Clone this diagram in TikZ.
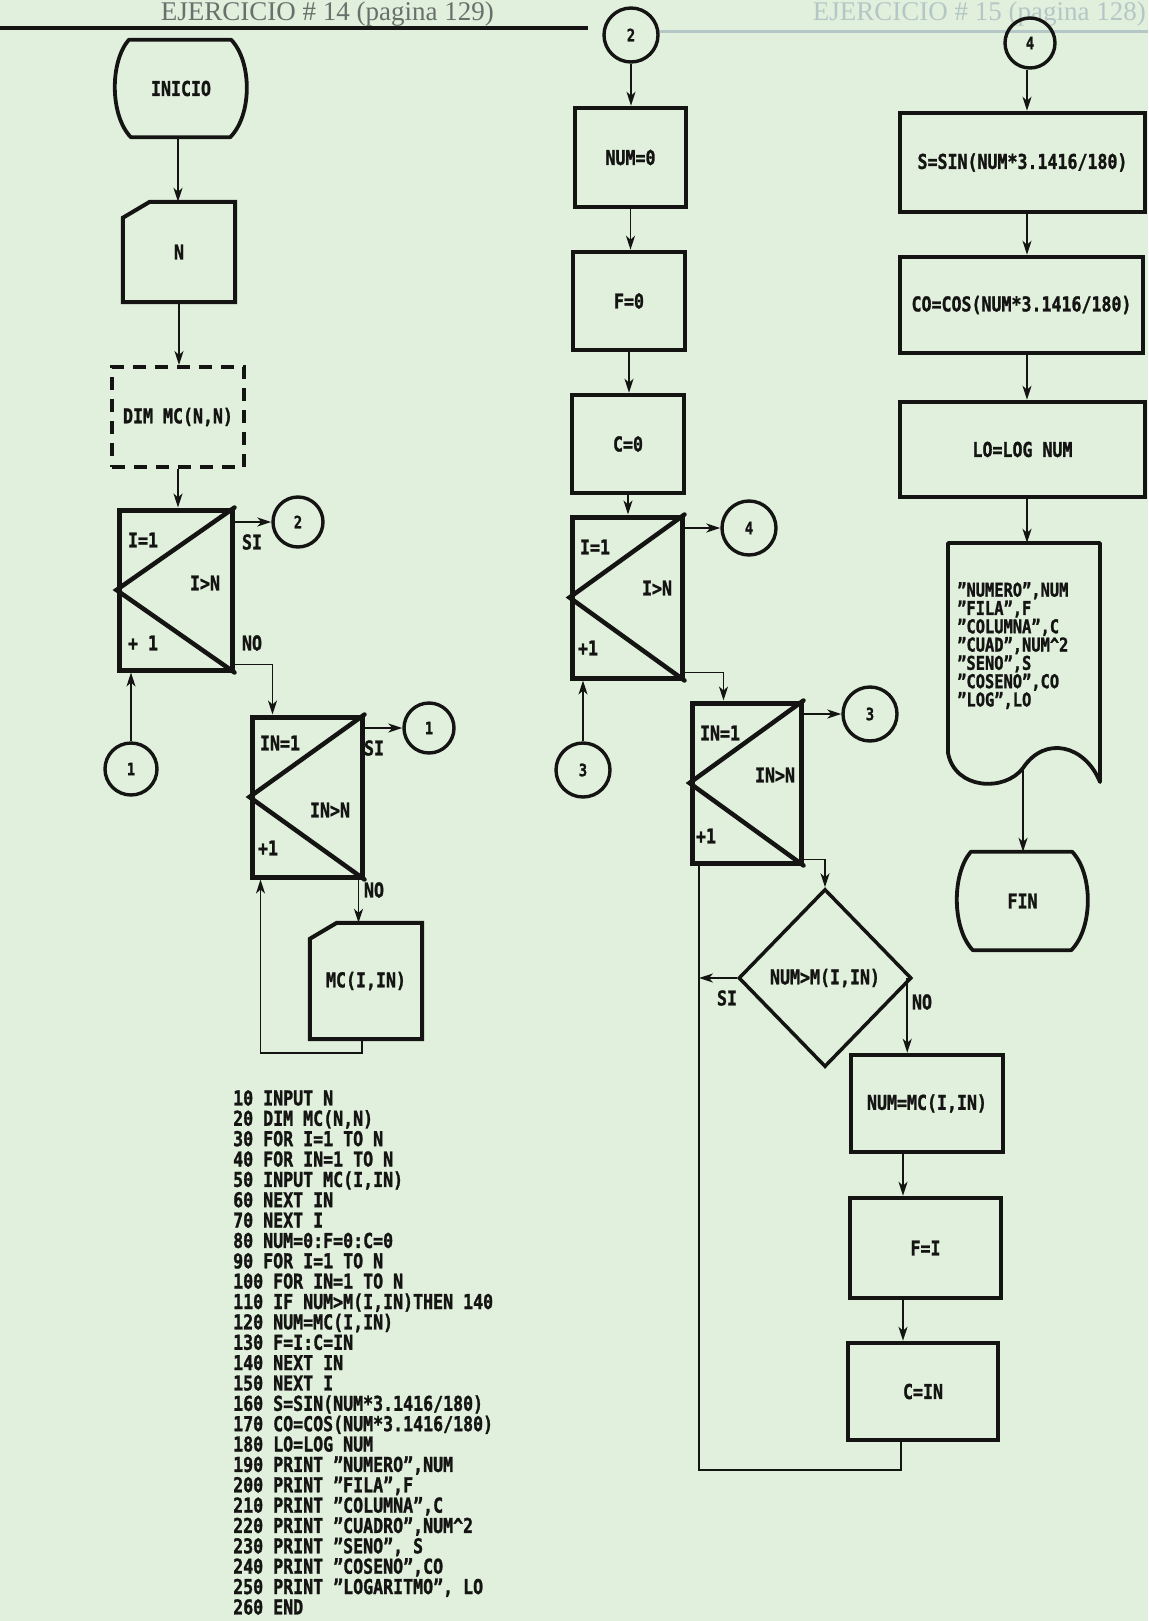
\documentclass[tikz,border=0pt]{standalone}
\usepackage{fontspec}
\usetikzlibrary{arrows.meta,shapes.geometric,calc}
\newfontfamily\dm{DejaVu Sans Mono}[FakeStretch=0.81, BoldFeatures={FakeBold=1.3}]
\newfontfamily\hdr{Liberation Serif}
\definecolor{paper}{RGB}{225,240,221}
\definecolor{ink}{RGB}{20,20,18}
\definecolor{ghost}{RGB}{180,198,198}
\definecolor{hdrgray}{RGB}{105,112,108}
\newcommand\termshape[1]{\draw[ink,line width=3.8pt,line join=round] ([xshift=14pt]#1.north west) -- ([xshift=-16pt]#1.north east) .. controls ([xshift=5pt,yshift=-22pt]#1.north east) and ([xshift=5pt,yshift=22pt]#1.south east) .. ([xshift=-17pt]#1.south east) -- ([xshift=16pt]#1.south west) .. controls ([xshift=-5pt,yshift=22pt]#1.south west) and ([xshift=-5pt,yshift=-22pt]#1.north west) .. ([xshift=14pt]#1.north west) -- cycle;}
\newcommand\inshape[1]{\draw[ink,line width=4pt,line join=miter] ([xshift=27pt]#1.north west) -- (#1.north east) -- (#1.south east) -- (#1.south west) -- ([yshift=-16pt]#1.north west) -- cycle;}
\newcommand\loopdiag[1]{\draw[ink,line width=4.5pt,line cap=round,line join=miter] (#1.north east) -- (#1.west) -- (#1.south east);}
\begin{document}
\begin{tikzpicture}[x=1pt,y=-1pt,
  every node/.style={font=\dm\bfseries\fontsize{20.5}{20.5}\selectfont, text=ink, inner sep=0pt},
  box/.style={draw=ink, line width=4.5pt, rectangle, inner sep=0pt},
  loopbox/.style={draw=ink, line width=5pt, rectangle, inner sep=0pt},
  conn/.style={draw=ink, circle, line width=3.4pt, minimum size=52pt, font=\dm\bfseries\fontsize{17}{17}\selectfont},
  arr/.style={draw=ink, line width=1.8pt, -{Stealth[length=14pt,width=9pt,inset=4pt]}},
  flow/.style={draw=ink, line width=1.8pt},
  shapenode/.style={rectangle, inner sep=0pt}
]
\fill[paper] (0,0) rectangle (1148,1621);
\useasboundingbox (0,0) rectangle (1148,1621);
\clip (0,0) rectangle (1148,1621);

% headers
\node[font=\hdr\fontsize{27}{27}\selectfont, text=hdrgray, anchor=base east] (hl) at (494,21) {EJERCICIO \# 14 (pagina 129)};
\node[font=\hdr\fontsize{27}{27}\selectfont, text=ghost, anchor=base east] (hr) at (1146,21) {EJERCICIO \# 15 (pagina 128)};
\draw[ghost, line width=3pt] (657,32) -- (1148,32);
\draw[ink, line width=4pt] (0,28) -- (588,28);

% ---------- left column ----------
\node[shapenode, minimum width=132pt, minimum height=97pt] (ini) at (181,88.5) {INICIO};
\termshape{ini}
\node[shapenode, minimum width=112pt, minimum height=100pt] (N) at (179,252) {N};
\inshape{N}
\node[draw=ink, line width=4pt, dash pattern=on 13pt off 9pt, minimum width=132pt, minimum height=100pt] (dim) at (178,417) {DIM MC(N,N)};
\node[loopbox, minimum width=113pt, minimum height=160pt] (L1) at (175.5,590) {};
\loopdiag{L1}
\node (L1a) at (143,540) {I=1};
\node (L1b) at (205,583) {I>N};
\node (L1c) at (143,643) {+ 1};
\node (L1si) at (252,542) {SI};
\node (L1no) at (252,643) {NO};
\node[conn, minimum size=50pt] (c2a) at (298,522) {2};
\node[conn] (c1a) at (131,769) {1};

\draw[arr] ([xshift=-3pt]ini.south) -- ([xshift=-3pt]ini.south |- N.north);
\draw[arr] (N.south) -- (N.south |- dim.north);
\draw[arr] (dim.south) -- (dim.south |- L1.north);
\draw[arr] (L1.north east |- c2a.west) -- (c2a.west);
\draw[arr] (c1a.north) -- (c1a.north |- L1.south);

\node[loopbox, minimum width=110pt, minimum height=160pt] (L2) at (307,797) {};
\loopdiag{L2}
\node (L2a) at (280,743) {IN=1};
\node (L2b) at (330,810) {IN>N};
\node (L2c) at (268,848) {+1};
\node (L2si) at (374,748) {SI};
\node (L2no) at (374,890) {NO};
\node[conn, minimum size=50pt] (c1b) at (429,728) {1};
\draw[arr] ([yshift=8pt]L1.south east) -| ([xshift=23pt]L2.north west);
\draw[arr] (L2.north east |- c1b.west) -- (c1b.west);

\node[shapenode, minimum width=112pt, minimum height=116pt] (MC) at (366,981) {MC(I,IN)};
\inshape{MC}
\draw[arr] ([xshift=-6pt]L2.south east) -- ([xshift=-6pt]L2.south east |- MC.north);
\draw[arr] ([xshift=-4pt]MC.south) -- ++(0,14) -| ([xshift=11pt]L2.south west);

% ---------- middle column ----------
\node[conn, minimum size=54pt] (c2b) at (631,35) {2};
\node[box, minimum width=111pt, minimum height=99pt] (n0) at (630.5,157.5) {NUM=0};
\node[box, minimum width=112pt, minimum height=98pt] (f0) at (629,301) {F=0};
\node[box, minimum width=112pt, minimum height=98pt] (c0) at (628,444) {C=0};
\node[loopbox, minimum width=110pt, minimum height=161pt] (L3) at (627,597.5) {};
\loopdiag{L3}
\node (L3a) at (595,547) {I=1};
\node (L3b) at (657,588) {I>N};
\node (L3c) at (588,648) {+1};
\node[conn, minimum size=54pt] (c4a) at (749,528) {4};
\node[conn, minimum size=54pt] (c3a) at (583,770) {3};
\draw[arr] (c2b.south) -- (c2b.south |- n0.north);
\draw[arr] (n0.south) -- (n0.south |- f0.north);
\draw[arr] (f0.south) -- (f0.south |- c0.north);
\draw[arr] (c0.south) -- (c0.south |- L3.north);
\draw[arr] (L3.north east |- c4a.west) -- (c4a.west);
\draw[arr] (c3a.north) -- (c3a.north |- L3.south);

\node[loopbox, minimum width=109pt, minimum height=160pt] (L4) at (746.5,783) {};
\loopdiag{L4}
\node (L4a) at (720,733) {IN=1};
\node (L4b) at (775,775) {IN>N};
\node (L4c) at (706,836) {+1};
\node[conn, minimum size=54pt] (c3b) at (870,714) {3};
\draw[arr] ([yshift=8pt]L3.south east) -| ([xshift=34pt]L4.north west);
\draw[arr] (L4.north east |- c3b.west) -- (c3b.west);

\node[draw=ink, line width=3.5pt, diamond, minimum width=173pt, minimum height=178pt, inner sep=0pt] (D) at (825,978) {NUM>M(I,IN)};
\node (Dsi) at (727,998) {SI};
\node (Dno) at (922,1002) {NO};
\draw[arr] ([yshift=6pt]L4.south east) -| (D.north);

\node[box, minimum width=152pt, minimum height=97pt] (NM) at (927,1103.5) {NUM=MC(I,IN)};
\node[box, minimum width=151pt, minimum height=100pt] (FI) at (925.5,1248) {F=I};
\node[box, minimum width=150pt, minimum height=97pt] (CI) at (923,1391.5) {C=IN};
\coordinate (colx) at (903,0);
\coordinate (retx) at (699,1470);
\coordinate (rb) at (901,1470);
\draw[arr] ([xshift=-6pt]D.east) -- ([xshift=-6pt]D.east |- NM.north);
\draw[arr] (NM.south -| colx) -- (FI.north -| colx);
\draw[arr] (FI.south -| colx) -- (CI.north -| colx);
\draw[arr] (D.west) -- (D.west -| retx);
\draw[flow] (CI.south -| rb) -- (rb) -- (retx) -- (retx |- L4.south);

% ---------- right column ----------
\node[conn, minimum size=50pt] (c4b) at (1030,43) {4};
\node[box, minimum width=245pt, minimum height=99pt] (S) at (1022.5,162.5) {S=SIN(NUM*3.1416/180)};
\node[box, minimum width=243pt, minimum height=96pt] (CO) at (1021.5,305) {CO=COS(NUM*3.1416/180)};
\node[box, minimum width=245pt, minimum height=95pt] (LO) at (1022.5,449.5) {LO=LOG NUM};
\coordinate (colr) at (1027,0);
\draw[arr] (c4b.south -| colr) -- (S.north -| colr);
\draw[arr] (S.south -| colr) -- (CO.north -| colr);
\draw[arr] (CO.south -| colr) -- (LO.north -| colr);

\node[shapenode, minimum width=152pt, minimum height=242pt] (PR) at (1024,664) {};
\draw[ink, line width=3.8pt, line join=round] (948,543) -- (1100,543) -- (1100,782) .. controls (1085,745) and (1045,735) .. (1023,768) .. controls (1005,792) and (955,790) .. (948,753) -- cycle;
\node[anchor=north west, align=left, font=\dm\bfseries\fontsize{19}{18.3}\selectfont] (PRt) at (957,582) {”NUMERO”,NUM\\”FILA”,F\\”COLUMNA”,C\\”CUAD”,NUM\textasciicircum 2\\”SENO”,S\\”COSENO”,CO\\”LOG”,LO};
\coordinate (docb) at (1023,768);
\draw[arr] (LO.south -| colr) -- (PR.north -| colr);

\node[shapenode, minimum width=131pt, minimum height=98pt] (fin) at (1022.5,901) {FIN};
\termshape{fin}
\draw[arr] (docb) -- (docb |- fin.north);

% ---------- listing ----------
\node[anchor=north west, align=left, font=\dm\bfseries\fontsize{20.5}{20.36}\selectfont] (code) at (233,1090) {10 INPUT N\\20 DIM MC(N,N)\\30 FOR I=1 TO N\\40 FOR IN=1 TO N\\50 INPUT MC(I,IN)\\60 NEXT IN\\70 NEXT I\\80 NUM=0:F=0:C=0\\90 FOR I=1 TO N\\100 FOR IN=1 TO N\\110 IF NUM>M(I,IN)THEN 140\\120 NUM=MC(I,IN)\\130 F=I:C=IN\\140 NEXT IN\\150 NEXT I\\160 S=SIN(NUM*3.1416/180)\\170 CO=COS(NUM*3.1416/180)\\180 LO=LOG NUM\\190 PRINT ”NUMERO”,NUM\\200 PRINT ”FILA”,F\\210 PRINT ”COLUMNA”,C\\220 PRINT ”CUADRO”,NUM\textasciicircum 2\\230 PRINT ”SENO”, S\\240 PRINT ”COSENO”,CO\\250 PRINT ”LOGARITMO”, LO\\260 END};
\end{tikzpicture}
\end{document}
